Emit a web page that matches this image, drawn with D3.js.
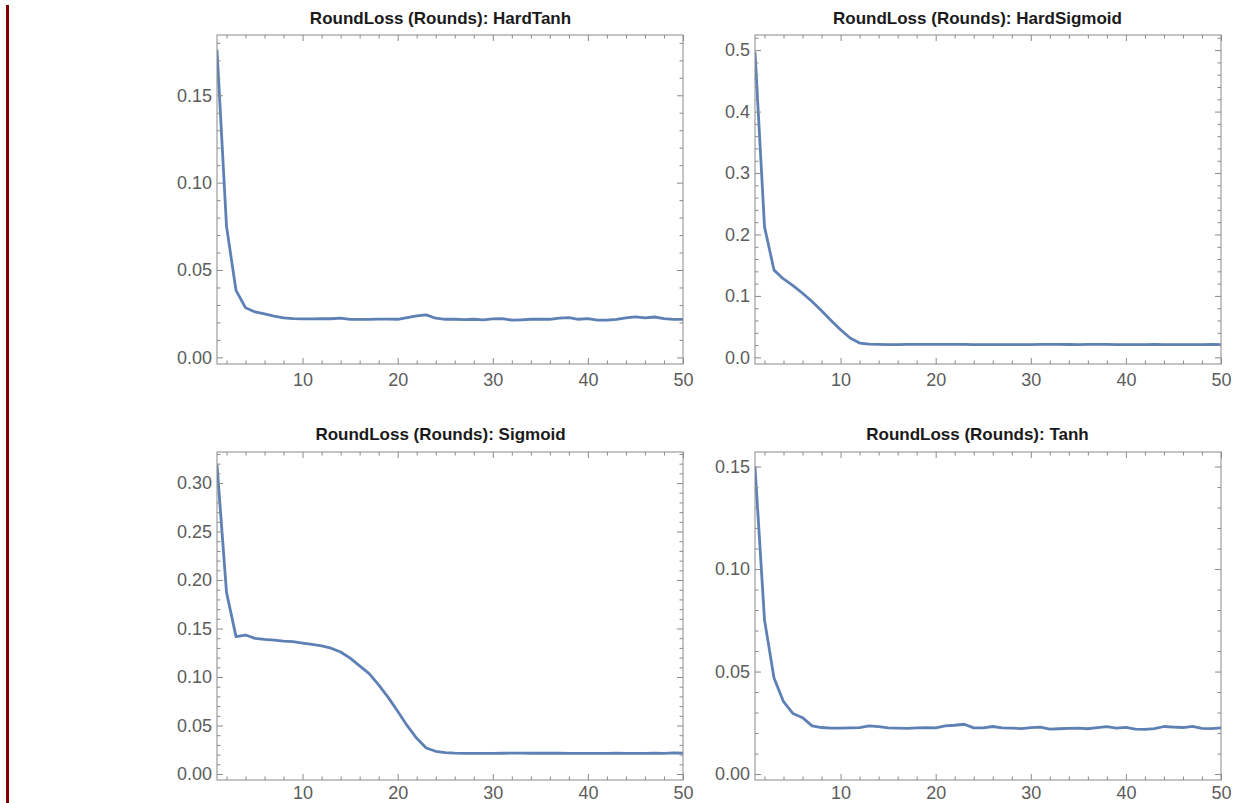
<!DOCTYPE html>
<html>
<head>
<meta charset="utf-8">
<script src="https://cdn.jsdelivr.net/npm/d3@7"></script>
<style>
  html, body { margin: 0; padding: 0; background: #ffffff; }
  svg { display: block; }
  .tick text { font-family: "Liberation Sans", Arial, sans-serif; }
</style>
</head>
<body>
<svg id="chart" width="1252" height="803"></svg>
<script>
// ---- data ----
const rounds = d3.range(1, 51);
const titles = [
  "RoundLoss (Rounds): HardTanh",
  "RoundLoss (Rounds): HardSigmoid",
  "RoundLoss (Rounds): Sigmoid",
  "RoundLoss (Rounds): Tanh"
];
const hardTanh = [0.176, 0.075, 0.0383, 0.0284, 0.026, 0.0249, 0.0236, 0.0226, 0.0222, 0.0220,
  0.0220, 0.0221, 0.0221, 0.0225, 0.0217, 0.0217, 0.0217, 0.0219, 0.0219, 0.0218,
  0.0228, 0.0238, 0.0243, 0.0224, 0.0218, 0.0218, 0.0216, 0.0218, 0.0215, 0.0220,
  0.0222, 0.0213, 0.0215, 0.0218, 0.0219, 0.0218, 0.0224, 0.0227, 0.0218, 0.0222,
  0.0213, 0.0213, 0.0217, 0.0226, 0.0232, 0.0226, 0.0231, 0.0222, 0.0217, 0.0217];
const hardSigmoid = [0.497, 0.2124, 0.142, 0.1276, 0.1168, 0.1043, 0.0908, 0.0757, 0.060, 0.0449,
  0.0314, 0.0232, 0.0215, 0.0210, 0.0208, 0.0208, 0.0210, 0.0212, 0.0212, 0.0211,
  0.0213, 0.0213, 0.0210, 0.0208, 0.0208, 0.0207, 0.0207, 0.0208, 0.0208, 0.0206,
  0.0210, 0.0211, 0.0210, 0.0209, 0.0208, 0.0210, 0.0212, 0.0210, 0.0208, 0.0207,
  0.0207, 0.0208, 0.0210, 0.0208, 0.0208, 0.0207, 0.0207, 0.0207, 0.0212, 0.0208];
const sigmoid = [0.319, 0.1873, 0.1416, 0.1433, 0.1399, 0.1388, 0.1381, 0.1370, 0.1364, 0.1350,
  0.1336, 0.1320, 0.1297, 0.1258, 0.1195, 0.1115, 0.1035, 0.0918, 0.0790, 0.0646,
  0.0498, 0.0368, 0.0268, 0.0234, 0.0220, 0.0215, 0.0213, 0.0213, 0.0213, 0.0213,
  0.0214, 0.0215, 0.0215, 0.0214, 0.0214, 0.0214, 0.0215, 0.0213, 0.0213, 0.0213,
  0.0213, 0.0213, 0.0214, 0.0213, 0.0213, 0.0213, 0.0214, 0.0213, 0.0218, 0.0216];
const tanh = [0.150, 0.0752, 0.0469, 0.0353, 0.0295, 0.0275, 0.0235, 0.0227, 0.0224, 0.0224,
  0.0225, 0.0226, 0.0235, 0.0231, 0.0225, 0.0224, 0.0223, 0.0225, 0.0226, 0.0225,
  0.0235, 0.0238, 0.0243, 0.0225, 0.0225, 0.0232, 0.0225, 0.0224, 0.0222, 0.0226,
  0.0229, 0.0219, 0.0221, 0.0223, 0.0224, 0.0221, 0.0227, 0.0231, 0.0224, 0.0228,
  0.0219, 0.0218, 0.0222, 0.0232, 0.0229, 0.0227, 0.0233, 0.0223, 0.0222, 0.0225];
const xMajorTicks = [10, 20, 30, 40, 50];
const xMinorTicks = [2, 4, 6, 8, 12, 14, 16, 18, 22, 24, 26, 28, 32, 34, 36, 38, 42, 44, 46, 48];
const yMajorTicks1 = [0.00, 0.05, 0.10, 0.15];
const yMajorTicks2 = [0.0, 0.1, 0.2, 0.3, 0.4, 0.5];
const yMajorTicks3 = [0.00, 0.05, 0.10, 0.15, 0.20, 0.25, 0.30];
const yMajorTicks4 = [0.00, 0.05, 0.10, 0.15];
const yTickFormats = [".2f", ".1f", ".2f", ".2f"];
const yMinorSteps = [0.01, 0.02, 0.01, 0.01];
const yDomains = [[-0.0038, 0.1845], [-0.0108, 0.5246], [-0.0062, 0.332], [-0.0029, 0.1571]];

// ---- layout ----
const svg = d3.select("#chart");
svg.append("rect").attr("x", 6).attr("y", 5).attr("width", 3).attr("height", 798).attr("fill", "#800000");

const panels = [
  {x0: 217, x1: 683, y0: 35, y1: 364, titleX: 440.5, titleY: 24, values: hardTanh, yTicks: yMajorTicks1, xPad: 9},
  {x0: 755, x1: 1221, y0: 35, y1: 364, titleX: 977.5, titleY: 24, values: hardSigmoid, yTicks: yMajorTicks2, xPad: 9},
  {x0: 217, x1: 683, y0: 452, y1: 780, titleX: 440.5, titleY: 440, values: sigmoid, yTicks: yMajorTicks3, xPad: 6},
  {x0: 755, x1: 1221, y0: 452, y1: 780, titleX: 977.5, titleY: 440, values: tanh, yTicks: yMajorTicks4, xPad: 6}
];

const frameColor = "#8a8a8a";
const labelColor = "#5c5c5c";
const lineColor = "#5e81b5";

panels.forEach((p, i) => {
  const x = d3.scaleLinear().domain([1, 50]).range([p.x0, p.x1]);
  const y = d3.scaleLinear().domain(yDomains[i]).range([p.y1, p.y0]);
  const g = svg.append("g");

  const clipId = "clip" + i;
  svg.append("clipPath").attr("id", clipId).append("rect")
    .attr("x", p.x0).attr("y", p.y0).attr("width", p.x1 - p.x0).attr("height", p.y1 - p.y0);

  const line = d3.line().x((d, j) => x(rounds[j])).y(d => y(d));
  g.append("path").datum(p.values)
    .attr("d", line)
    .attr("fill", "none")
    .attr("stroke", lineColor)
    .attr("stroke-width", 2.8)
    .attr("stroke-linejoin", "round")
    .attr("clip-path", "url(#" + clipId + ")");

  const step = yMinorSteps[i];
  const yMinor = [];
  const dmax = yDomains[i][1];
  for (let k = 0; k * step <= dmax + 1e-9; k++) {
    const v = +(k * step).toFixed(4);
    if (!p.yTicks.some(t => Math.abs(t - v) < 1e-9)) yMinor.push(v);
  }

  function styleAxis(sel) {
    sel.select(".domain").remove();
    sel.selectAll(".tick line").attr("stroke", frameColor).attr("stroke-width", 1);
    sel.selectAll(".tick text").attr("fill", labelColor).attr("font-size", "18px")
      .attr("font-family", "'Liberation Sans', Arial, sans-serif");
  }

  g.append("g").attr("transform", `translate(0,${p.y1})`)
    .call(d3.axisBottom(x).tickValues(xMajorTicks).tickSize(-6).tickPadding(p.xPad).tickFormat(d3.format("d")))
    .call(styleAxis);
  g.append("g").attr("transform", `translate(0,${p.y1})`)
    .call(d3.axisBottom(x).tickValues(xMinorTicks).tickSize(-3.5).tickFormat(""))
    .call(styleAxis);
  g.append("g").attr("transform", `translate(0,${p.y0})`)
    .call(d3.axisTop(x).tickValues(xMajorTicks).tickSize(-6).tickFormat(""))
    .call(styleAxis);
  g.append("g").attr("transform", `translate(0,${p.y0})`)
    .call(d3.axisTop(x).tickValues(xMinorTicks).tickSize(-3.5).tickFormat(""))
    .call(styleAxis);
  g.append("g").attr("transform", `translate(${p.x0},0)`)
    .call(d3.axisLeft(y).tickValues(p.yTicks).tickSize(-6).tickPadding(5).tickFormat(d3.format(yTickFormats[i])))
    .call(styleAxis);
  g.append("g").attr("transform", `translate(${p.x0},0)`)
    .call(d3.axisLeft(y).tickValues(yMinor).tickSize(-3.5).tickFormat(""))
    .call(styleAxis);
  g.append("g").attr("transform", `translate(${p.x1},0)`)
    .call(d3.axisRight(y).tickValues(p.yTicks).tickSize(-6).tickFormat(""))
    .call(styleAxis);
  g.append("g").attr("transform", `translate(${p.x1},0)`)
    .call(d3.axisRight(y).tickValues(yMinor).tickSize(-3.5).tickFormat(""))
    .call(styleAxis);

  g.append("rect").attr("x", p.x0).attr("y", p.y0)
    .attr("width", p.x1 - p.x0).attr("height", p.y1 - p.y0)
    .attr("fill", "none").attr("stroke", frameColor).attr("stroke-width", 1);

  svg.append("text").attr("x", p.titleX).attr("y", p.titleY)
    .attr("text-anchor", "middle")
    .attr("font-family", "'Liberation Sans', Arial, sans-serif")
    .attr("font-weight", "bold").attr("font-size", "17px")
    .attr("fill", "#1a1a1a")
    .text(titles[i]);
});
</script>
</body>
</html>
